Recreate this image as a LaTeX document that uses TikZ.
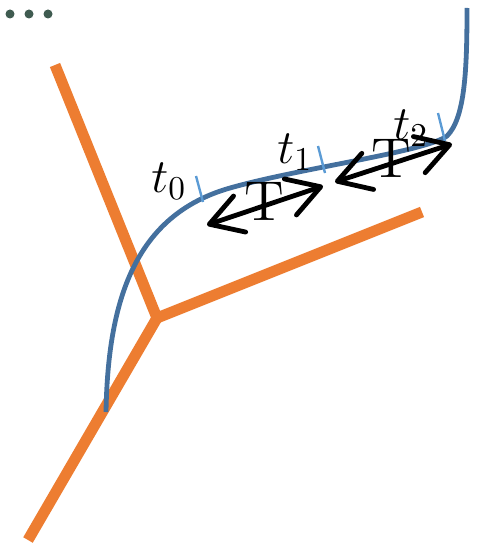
\documentclass[tikz,border=0pt]{standalone}
\usepackage{amsmath,amssymb}
\usetikzlibrary{arrows.meta}
\definecolor{branchorange}{HTML}{ED7D31}
\definecolor{pathblue}{HTML}{44709E}
\definecolor{tickblue}{HTML}{5B9BD5}
\definecolor{dotgreen}{HTML}{3F5B50}

\begin{document}
\begin{tikzpicture}[x=1pt,y=-1pt,>={Straight Barb[length=32pt,width=38pt,round]},
  branch/.style={draw=branchorange,line width=11pt},
  traj/.style={draw=pathblue,line width=4.8pt},
  tickmark/.style={draw=tickblue,line width=2.4pt},
  period/.style={<->,line width=4.8pt,black},
  tlabel/.style={font=\Large,scale=3.33,inner sep=0pt},
  plabel/.style={font=\Large,scale=3.9,inner sep=0pt}]
\useasboundingbox (0,0) rectangle (494,543);
% menu dots
\foreach \x in {10,29,48} \fill[dotgreen] (\x,14) circle (4.5);
% branches
\coordinate (hub) at (157,318);
\coordinate (armA) at (55,65);
\coordinate (armB) at (422,212);
\coordinate (armC) at (28,540);
\draw[branch] (armA) -- (hub) -- (armB);
\draw[branch] (hub) -- (armC);
% trajectory
\draw[traj] (106,412) .. controls (108,300) and (135,215) .. (230,188)
  .. controls (300,168) and (425,152) .. (447,136)
  .. controls (465,118) and (467,70) .. (467,8);
% time ticks
\draw[tickmark] (196,176) -- (203,202);
\draw[tickmark] (318,146) -- (325,173);
\draw[tickmark] (438,113) -- (445,141);
\node[tlabel] (t0) at (169,181) {$t_0$};
\node[tlabel] (t1) at (295,152) {$t_1$};
\node[tlabel] (t2) at (411,128) {$t_2$};
% periods
\coordinate (p1a) at (207,225);
\coordinate (p1b) at (323,186);
\coordinate (p2a) at (335,182);
\coordinate (p2b) at (452,144);
\draw[period] (p1a) -- (p1b);
\draw[period] (p2a) -- (p2b);
\node[plabel] (T1) at (264,201) {T};
\node[plabel] (T2) at (391,158) {T};
\end{tikzpicture}
\end{document}
